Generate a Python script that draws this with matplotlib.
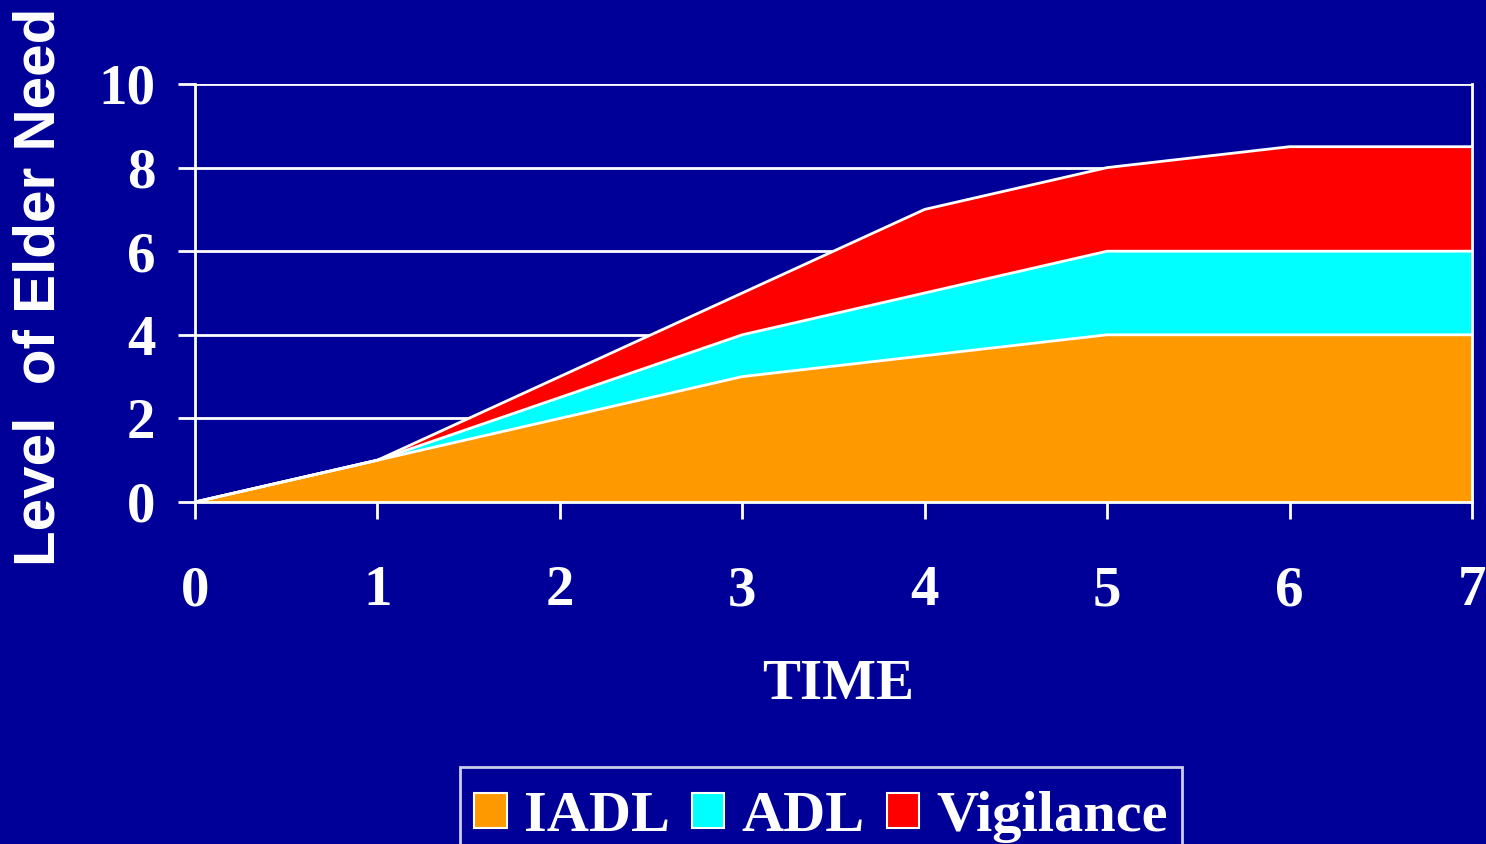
import matplotlib
matplotlib.use("Agg")
import matplotlib.pyplot as plt
from matplotlib.patches import Patch
import numpy as np

# Data: stacked components of elder need over time
time = [0, 1, 2, 3, 4, 5, 6, 7]
iadl = [0, 1, 2, 3, 3.5, 4, 4, 4]
adl = [0, 0, 0.5, 1, 1.5, 2, 2, 2]
vigilance = [0, 0, 0.5, 1, 2, 2, 2.5, 2.5]
series_names = ["IADL", "ADL", "Vigilance"]
colors = ["#FF9900", "#00FFFF", "#FF0000"]
y_ticks = [0, 2, 4, 6, 8, 10]
x_ticks = [0, 1, 2, 3, 4, 5, 6, 7]

bg = "#000099"
serif = ["Liberation Serif", "DejaVu Serif"]
sans = ["Liberation Sans", "DejaVu Sans"]

fig = plt.figure(figsize=(14.86, 8.44), dpi=100, facecolor=bg)
ax = fig.add_axes([195 / 1486, 1 - 502 / 844, (1472 - 195) / 1486, (502 - 84) / 844])
ax.set_facecolor(bg)

x = np.array(time, dtype=float)
layers = [np.array(iadl, float), np.array(adl, float), np.array(vigilance, float)]
base = np.zeros_like(x)
for vals, col in zip(layers, colors):
    top = base + vals
    ax.fill_between(x, base, top, facecolor=col, edgecolor="none", zorder=2)
    ax.plot(x, top, color="white", lw=2, zorder=3, solid_joinstyle="round")
    base = top

ax.set_xlim(0, 7)
ax.set_ylim(0, 10)
ax.set_yticks(y_ticks)
ax.set_xticks(x_ticks)
ax.yaxis.grid(True, color="white", lw=2, zorder=1)
ax.set_axisbelow(True)

for side in ["left", "bottom", "right"]:
    ax.spines[side].set_color("white")
    ax.spines[side].set_linewidth(2)
ax.spines["top"].set_visible(False)

ax.tick_params(axis="both", direction="out", color="white", width=2, length=12.5,
               labelcolor="white")
ax.tick_params(axis="y", pad=16)
ax.tick_params(axis="x", pad=33)
for lab in ax.get_yticklabels() + ax.get_xticklabels():
    lab.set_fontfamily(serif)
    lab.set_fontweight("bold")
    lab.set_fontsize(41)

fig.text(838 / 1486, 1 - 685 / 844, "TIME", color="white", fontsize=41,
         fontweight="bold", family=serif, ha="center", va="center")
fig.text(40 / 1486, 1 - 287 / 844, "Level  of Elder Need", color="white", fontsize=42,
         fontweight="bold", family=sans, ha="center", va="center", rotation=90)

handles = [Patch(facecolor=c, edgecolor="white", lw=1.5) for c in colors]
leg = fig.legend(handles, series_names, loc="upper center",
                 bbox_to_anchor=(821 / 1486, 1 - 767 / 844), ncol=3,
                 frameon=True, fancybox=False, facecolor=bg, edgecolor="white",
                 prop={"family": serif, "weight": "bold", "size": 42},
                 title=" ", title_fontsize=1, labelspacing=0.15,
                 handlelength=0.56, handleheight=0.55, handletextpad=0.29,
                 columnspacing=0.38, borderpad=0.25, borderaxespad=0)
leg.get_frame().set_linewidth(2)
for t in leg.get_texts():
    t.set_color("white")

fig.savefig("out.png", dpi=100, facecolor=bg)
